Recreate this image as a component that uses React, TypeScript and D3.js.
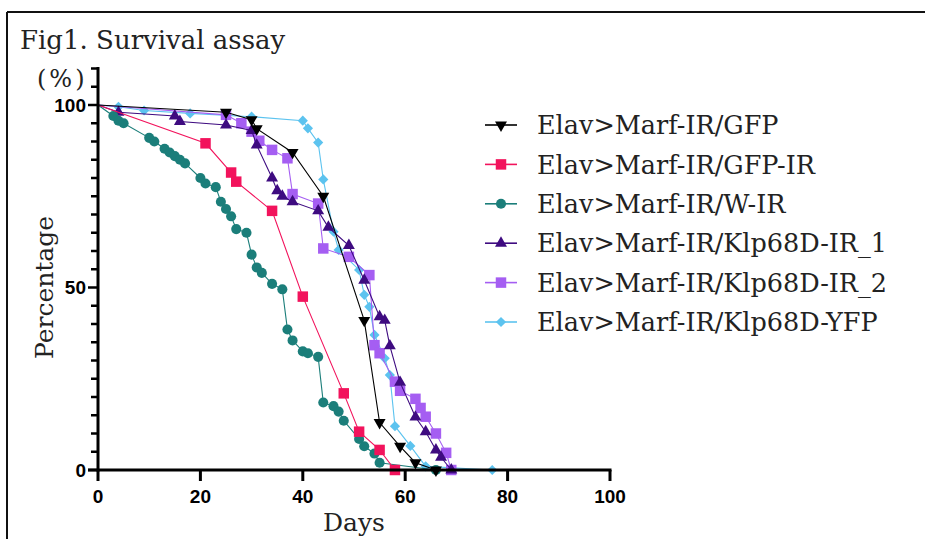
import React from "react";
import * as d3 from "d3";

// survival curves (day, % alive)
const gfpDays = [0, 25, 30, 31, 38, 44, 52, 55, 59, 62, 66];
const gfpPct = [100, 98, 96, 93.5, 87, 75, 41, 13, 6.5, 2, 0];

const gfpIrDays = [0, 21, 26, 27, 34, 40, 48, 51, 55, 58];
const gfpIrPct = [100, 89.5, 81.5, 79, 71, 47.5, 21, 10.5, 5.5, 0];

const wIrDays = [0, 3, 4, 5, 10, 11, 13, 14, 15, 16, 17, 20, 21, 23, 24, 25, 26, 27, 29, 30, 31, 32, 34, 36, 37, 38, 40, 41, 43, 44, 46, 47, 48, 51, 52, 54, 55, 66];
const wIrPct = [100, 97, 95.7, 95, 91, 90, 88, 87, 86, 85, 84, 80, 78.5, 77.5, 73.5, 71.5, 69.5, 66, 65, 59, 55.5, 54, 51, 49.5, 38.5, 35.5, 32.5, 32, 31, 18.5, 17.5, 16, 13.5, 8.5, 6.5, 4.5, 2, 0];

const klp1Days = [0, 4, 15, 16, 25, 30, 31, 34, 35, 36, 38, 43, 45, 49, 52, 55, 56, 57, 59, 62, 64, 66, 67, 69];
const klp1Pct = [100, 98, 97, 95.5, 94.5, 93, 89, 80, 76.5, 75, 73.5, 71, 66.5, 61.5, 52, 42, 41, 34, 24, 14.5, 10.5, 5.5, 3.5, 0];

const klp2Days = [0, 25, 28, 30, 31.5, 34, 37, 38, 43, 44, 49, 53, 54, 55, 58, 59, 62, 63, 64, 66, 68, 69];
const klp2Pct = [100, 97.3, 95, 92.7, 90.2, 87.7, 85.4, 75.6, 73, 60.7, 58.4, 53.4, 34.2, 32, 24.2, 21.7, 19.5, 17, 14.6, 10, 4.7, 0];

const yfpDays = [0, 4, 9, 18, 30, 40, 41, 43, 44, 46, 47, 51, 52, 53, 54, 56, 57, 58, 61, 64, 77];
const yfpPct = [100, 99.5, 98.5, 97.7, 96.8, 95.7, 93.6, 89.7, 79.6, 65.3, 60.3, 54.8, 48, 44.7, 37, 30.6, 26, 12, 6.6, 1, 0];

const seriesNames = [
  "Elav>Marf-IR/GFP",
  "Elav>Marf-IR/GFP-IR",
  "Elav>Marf-IR/W-IR",
  "Elav>Marf-IR/Klp68D-IR_1",
  "Elav>Marf-IR/Klp68D-IR_2",
  "Elav>Marf-IR/Klp68D-YFP",
];
const seriesColors = ["#000000", "#f2135c", "#1b7e7a", "#3e0b80", "#a55ef2", "#5cc3ef"];
const seriesMarkers = ["down", "square", "circle", "triangle", "square", "diamond"];

const xTicks = [0, 20, 40, 60, 80, 100];
const yLabelTicks = [0, 50, 100];

const serifFont = "'DejaVu Serif', 'Liberation Serif', serif";
const tickFont = "'Liberation Sans Narrow', 'Liberation Sans', Arial, sans-serif";

const Marker = ({ kind, x, y, color }: { kind: string; x: number; y: number; color: string }) => {
  let d = "";
  let rot = 0;
  if (kind === "square") d = d3.symbol(d3.symbolSquare, 110)()!;
  else if (kind === "circle") d = d3.symbol(d3.symbolCircle, 80)()!;
  else if (kind === "triangle") d = d3.symbol(d3.symbolTriangle, 62)()!;
  else if (kind === "down") { d = d3.symbol(d3.symbolTriangle, 62)()!; rot = 180; }
  else if (kind === "diamond") { d = d3.symbol(d3.symbolSquare, 52)()!; rot = 45; }
  return <path d={d} transform={`translate(${x},${y}) rotate(${rot})`} fill={color} />;
};

export default function App() {
  const width = 925;
  const height = 539;

  const x = d3.scaleLinear().domain([0, 100]).range([98, 610]);
  const y = d3.scaleLinear().domain([0, 110]).range([470, 470 - 110 * 3.65]);

  const data = [
    d3.zip(gfpDays, gfpPct),
    d3.zip(gfpIrDays, gfpIrPct),
    d3.zip(wIrDays, wIrPct),
    d3.zip(klp1Days, klp1Pct),
    d3.zip(klp2Days, klp2Pct),
    d3.zip(yfpDays, yfpPct),
  ];

  const line = d3.line<number[]>().x(d => x(d[0])).y(d => y(d[1]));
  const yTicks = d3.range(0, 111, 5);
  const drawOrder = [5, 4, 3, 2, 1, 0];

  return (
    <svg width={width} height={height} style={{ position: "absolute", left: 0, top: 0, background: "#fff" }}>
      {/* frame */}
      <line x1={7} y1={12} x2={925} y2={12} stroke="#111" strokeWidth={2} />
      <line x1={7} y1={12} x2={7} y2={539} stroke="#111" strokeWidth={2} />

      <text x={20} y={49} fontFamily={serifFont} fontSize={26} fill="#222">Fig1. Survival assay</text>
      <text x={37} y={87} fontFamily={serifFont} fontSize={24} letterSpacing={3} fill="#222">(%)</text>

      {/* series */}
      {drawOrder.map(i => (
        <g key={i}>
          <path d={line(data[i])!} fill="none" stroke={seriesColors[i]} strokeWidth={1.1} />
          {data[i].filter(p => p[0] > 0).map((p, j) => (
            <Marker key={j} kind={seriesMarkers[i]} x={x(p[0])} y={y(p[1])} color={seriesColors[i]} />
          ))}
        </g>
      ))}

      {/* y axis */}
      <line x1={x(0)} y1={y(110) - 1.5} x2={x(0)} y2={y(0) + 1.5} stroke="#000" strokeWidth={3} />
      {yTicks.map(t => {
        const major = t % 50 === 0;
        return (
          <line key={t} x1={x(0) - (major ? 10 : 7)} x2={x(0)} y1={y(t)} y2={y(t)} stroke="#000" strokeWidth={2.5} />
        );
      })}
      {yLabelTicks.map(t => (
        <text key={t} x={86} y={y(t)} dy="0.36em" textAnchor="end" fontFamily={tickFont} fontWeight="bold" fontSize={19} fill="#000">{t}</text>
      ))}

      {/* x axis */}
      <line x1={x(0) - 10} y1={y(0)} x2={x(100) + 1.5} y2={y(0)} stroke="#000" strokeWidth={3} />
      {xTicks.map(t => (
        <g key={t}>
          <line x1={x(t)} x2={x(t)} y1={y(0)} y2={y(0) + 11} stroke="#000" strokeWidth={3} />
          <text x={x(t)} y={503} textAnchor="middle" fontFamily={tickFont} fontWeight="bold" fontSize={19} fill="#000">{t}</text>
        </g>
      ))}

      <text x={x(50)} y={531} textAnchor="middle" fontFamily={serifFont} fontSize={25} fill="#222">Days</text>
      <text transform={`translate(53,${y(50)}) rotate(-90)`} textAnchor="middle" fontFamily={serifFont} fontSize={25} fill="#222">Percentage</text>

      {/* legend */}
      {seriesNames.map((name, i) => {
        const ly = 125 + i * 39.4;
        return (
          <g key={name}>
            <line x1={485} x2={517} y1={ly} y2={ly} stroke={seriesColors[i]} strokeWidth={1.6} />
            <Marker kind={seriesMarkers[i]} x={501} y={ly} color={seriesColors[i]} />
            <text x={537} y={ly} dy="0.36em" fontFamily={serifFont} fontSize={25.5} fill="#222">{name}</text>
          </g>
        );
      })}
    </svg>
  );
}
